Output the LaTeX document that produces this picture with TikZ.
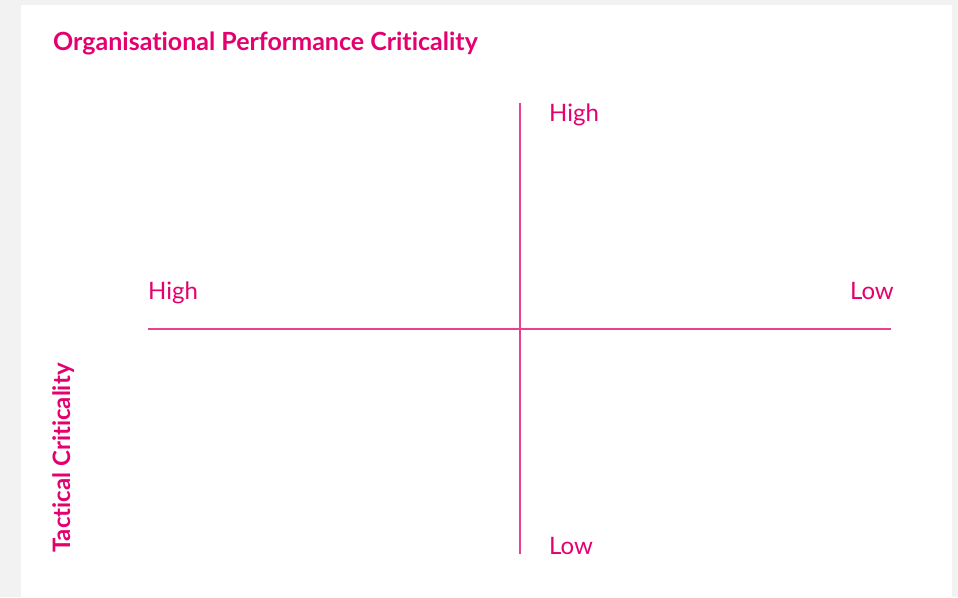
\documentclass[tikz,border=0pt]{standalone}
\usepackage{fontspec}
\setmainfont[Ligatures={NoCommon}]{Lato}
\definecolor{brandpink}{RGB}{228,0,110}
\definecolor{pagegrey}{RGB}{242,242,242}
\begin{document}
\begin{tikzpicture}[x=1pt,y=-1pt,
  axis/.style={draw=brandpink!75!white, line width=1.3pt},
  heading/.style={text=brandpink, font=\fontsize{25}{30}\selectfont\bfseries, inner sep=0pt},
  tick/.style={text=brandpink, font=\fontsize{24}{28}\selectfont, inner sep=0pt}]
  % page and panel
  \fill[pagegrey] (0,0) rectangle (958,597);
  \fill[white] (21,5) rectangle (952,597);
  \useasboundingbox (0,0) rectangle (958,597);
  % axes
  \coordinate (hl) at (148,329);
  \coordinate (hr) at (891,329);
  \coordinate (vt) at (520,103);
  \coordinate (vb) at (520,554);
  \draw[axis] (hl) -- (hr);
  \draw[axis] (vt) -- (vb);
  % labels
  \node[heading, anchor=base west] (title) at (53,50) {Organisational Performance Criticality};
  \node[heading, font=\fontsize{24}{28}\selectfont\bfseries, anchor=base west, rotate=90] (ylab) at (70,553) {Tactical Criticality};
  \node[tick, anchor=base west] (ytop) at (549,121) {High};
  \node[tick, anchor=base west] (ybot) at (549,554) {Low};
  \node[tick, anchor=base west] (xleft) at (148,299) {High};
  \node[tick, anchor=base east] (xright) at (894,299) {Low};
\end{tikzpicture}
\end{document}
